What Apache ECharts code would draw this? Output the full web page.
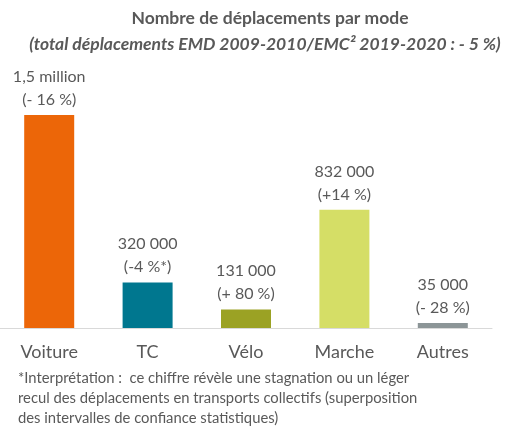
<!DOCTYPE html>
<html>
<head>
<meta charset="utf-8">
<script src="https://cdn.jsdelivr.net/npm/echarts@6/dist/echarts.min.js"></script>
<style>
  html, body { margin: 0; padding: 0; background: #fff; }
  #chart { width: 512px; height: 428px; }
</style>
</head>
<body>
<div id="chart"></div>
<script>
const categories = ["Voiture", "TC", "Vélo", "Marche", "Autres"];
const trips = [1500000, 320000, 131000, 832000, 35000];
const tripLabels = ["1,5 million", "320 000", "131 000", "832 000", "35 000"];
const changeLabels = ["(- 16 %)", "(-4 %*)", "(+ 80 %)", "(+14 %)", "(- 28 %)"];
const barColors = ["#EC6608", "#00778F", "#9BA224", "#D5DE66", "#8C9597"];

const titleText = "Nombre de déplacements par mode";
const subtitleText = "(total déplacements EMD 2009-2010/EMC² 2019-2020 : - 5 %)";
const footnote = [
  "*Interprétation :  ce chiffre révèle une stagnation ou un léger",
  "recul des déplacements en transports collectifs (superposition",
  "des intervalles de confiance statistiques)"
];

const FONT = "Lato, 'Open Sans', sans-serif";
const GREY = "#595959";

const chart = echarts.init(document.getElementById("chart"), null, { renderer: "canvas" });

chart.setOption({
  animation: false,
  grid: { left: 0, right: 20, top: 115, bottom: 100 },
  xAxis: {
    type: "category",
    data: categories,
    axisLine: { lineStyle: { color: "#D9D9D9", width: 1 } },
    axisTick: { show: false },
    axisLabel: { color: GREY, fontSize: 18, fontFamily: FONT, margin: 15 }
  },
  yAxis: {
    type: "value",
    min: 0,
    max: 1500000,
    show: false,
    splitLine: { show: false }
  },
  series: [{
    type: "bar",
    barWidth: 50,
    data: trips.map((v, i) => ({ value: v, itemStyle: { color: barColors[i] } })),
    label: {
      show: true,
      position: "top",
      distance: 4,
      fontFamily: FONT,
      fontSize: 16,
      color: GREY,
      lineHeight: 23,
      formatter: p => tripLabels[p.dataIndex] + "\n" + changeLabels[p.dataIndex]
    }
  }],
  graphic: [
    {
      type: "text", x: 270, y: 18,
      style: { text: titleText, fill: GREY, font: "bold 17.5px " + FONT, align: "center", verticalAlign: "middle" }
    },
    {
      type: "text", x: 265, y: 44,
      style: { text: subtitleText, fill: GREY, font: "italic bold 17.5px " + FONT, align: "center", verticalAlign: "middle" }
    },
    {
      type: "text", x: 18, y: 368,
      style: { text: footnote.join("\n"), fill: GREY, font: "14.8px " + FONT, lineHeight: 20, align: "left", verticalAlign: "top" }
    }
  ]
});
</script>
</body>
</html>
